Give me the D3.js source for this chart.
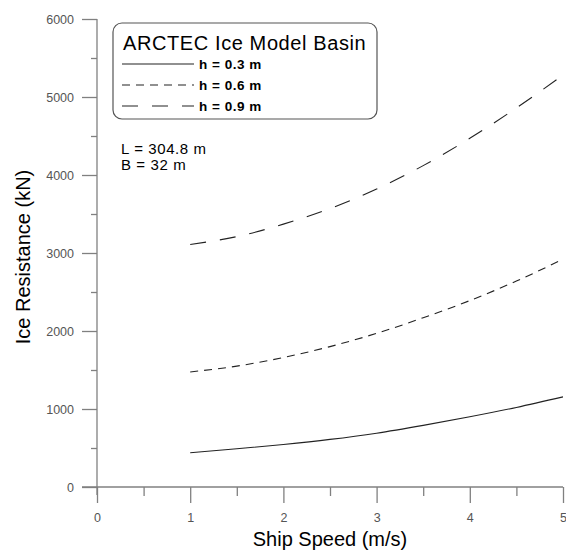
<!DOCTYPE html>
<html>
<head>
<meta charset="utf-8">
<script src="https://cdn.jsdelivr.net/npm/d3@7"></script>
<style>
body{margin:0;background:#fff;}
text{font-family:"Liberation Sans",Arial,sans-serif;}
</style>
</head>
<body>
<div id="content"></div>
<script>
//data
var speeds=[1,1.5,2,2.5,3,3.5,4,4.5,5];
var res03=[440,490,545,610,690,790,900,1020,1155];
var res06=[1475,1550,1660,1800,1970,2170,2390,2640,2920];
var res09=[3110,3210,3370,3570,3820,4120,4470,4860,5280];
var seriesNames=["h = 0.3 m","h = 0.6 m","h = 0.9 m"];
var xTicks=[0,1,2,3,4,5];
var yTicks=[0,1000,2000,3000,4000,5000,6000];
var notes=["L = 304.8 m","B = 32 m"];
var legendTitle="ARCTEC Ice Model Basin";

//constants
var width=566, height=550;
var x0=97, x1=563, y0=487, y1=19;
var axisColor="#808080";
var dashes=[null,"8,6","16,14"];

var svg=d3.select("#content").append("svg")
	.attr("width",width)
	.attr("height",height);

var x=d3.scaleLinear().domain([0,5]).range([x0,x1]);
var y=d3.scaleLinear().domain([0,6000]).range([y0,y1]);

//y axis
var yAxis=svg.append("g").attr("transform","translate("+x0+",0)")
	.call(d3.axisLeft(y).tickValues(yTicks).tickSize(15).tickPadding(8).tickFormat(d3.format("d")));
svg.append("g").attr("transform","translate("+x0+",0)")
	.call(d3.axisLeft(y).tickValues(d3.range(500,6000,1000)).tickSize(6).tickFormat(""))
	.select(".domain").remove();
yAxis.select(".domain").attr("d","M0,"+y1+"V"+(y0+8));

//x axis
var xAxis=svg.append("g").attr("transform","translate(0,"+y0+")")
	.call(d3.axisBottom(x).tickValues(xTicks).tickSize(16).tickPadding(10).tickFormat(d3.format("d")));
svg.append("g").attr("transform","translate(0,"+y0+")")
	.call(d3.axisBottom(x).tickValues(d3.range(0.5,5,1)).tickSize(9).tickFormat(""))
	.select(".domain").remove();
xAxis.select(".domain").attr("d","M"+(x0-15)+",0H"+x1);

svg.selectAll(".domain,.tick line").attr("stroke",axisColor).attr("stroke-width",1.3);
svg.selectAll(".tick text").attr("fill","#555").style("font-size","12.5px")
	.style("font-family","'Liberation Sans',Arial,sans-serif");

//axis titles
svg.append("text").attr("x",330).attr("y",546).attr("text-anchor","middle")
	.style("font-size","20px").text("Ship Speed (m/s)");
svg.append("text").attr("transform","translate(30,257) rotate(-90)").attr("text-anchor","middle")
	.style("font-size","20px").text("Ice Resistance (kN)");

//curves
var line=d3.line().x(function(d){return x(d[0]);}).y(function(d){return y(d[1]);}).curve(d3.curveMonotoneX);
[res03,res06,res09].forEach(function(vals,i){
	svg.append("path")
		.attr("d",line(speeds.map(function(s,j){return [s,vals[j]];})))
		.attr("fill","none").attr("stroke","#222").attr("stroke-width",1.1)
		.attr("stroke-dasharray",dashes[i]);
});

//legend
svg.append("rect").attr("x",113).attr("y",23).attr("width",264).attr("height",96)
	.attr("rx",9).attr("fill","#fff").attr("stroke","#555").attr("stroke-width",1.2);
svg.append("text").attr("x",123).attr("y",50).style("font-size","20px")
	.style("letter-spacing","0.6px").text(legendTitle);
seriesNames.forEach(function(n,i){
	var ly=64+i*21;
	svg.append("line").attr("x1",122).attr("x2",194).attr("y1",ly).attr("y2",ly)
		.attr("stroke","#222").attr("stroke-width",1.1).attr("stroke-dasharray",dashes[i]);
	svg.append("text").attr("x",199).attr("y",ly+5).style("font-size","13.5px")
		.style("font-weight","bold").style("letter-spacing","0.5px").text(n);
});

//notes
notes.forEach(function(n,i){
	svg.append("text").attr("x",121).attr("y",154+i*16).style("font-size","15px")
		.style("letter-spacing","0.6px").text(n);
});
</script>
</body>
</html>
